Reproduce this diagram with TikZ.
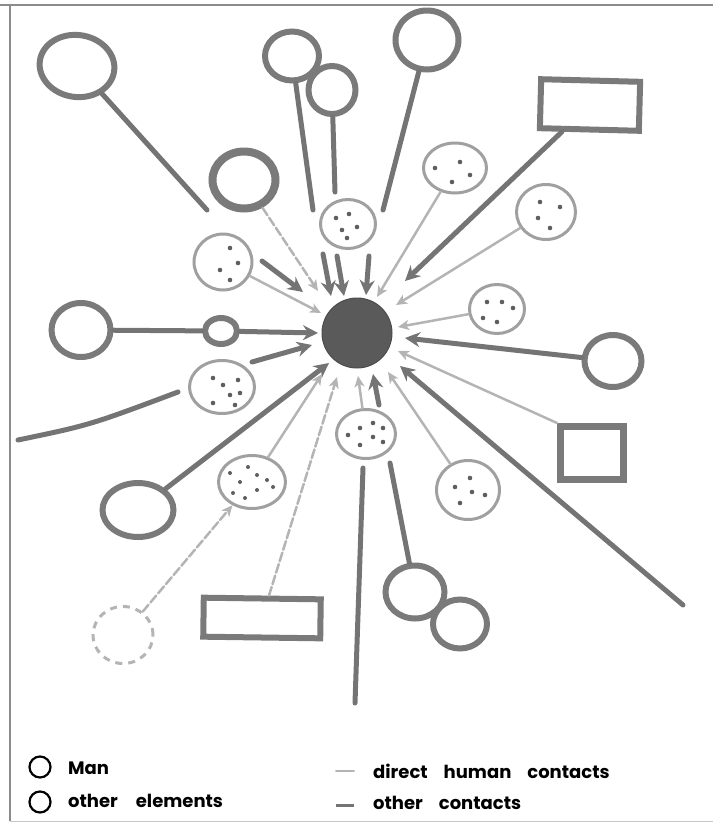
\documentclass[tikz,border=0pt]{standalone}
\usepackage{fontspec}
\setsansfont{Poppins}
\usetikzlibrary{shapes.geometric,arrows.meta}
\definecolor{elemc}{HTML}{7A7A7A}
\definecolor{linec}{HTML}{747474}
\definecolor{humc}{HTML}{B4B4B4}
\definecolor{manc}{HTML}{A0A0A0}
\definecolor{dotc}{HTML}{5E5E5E}
\definecolor{corec}{HTML}{5A5A5A}
\definecolor{framec}{HTML}{8C8C8C}
\begin{document}
\begin{tikzpicture}[x=1pt,y=-1pt,
  elem/.style={draw=elemc,line width=6pt,ellipse,inner sep=0pt},
  box/.style={draw=elemc,line width=6pt,rectangle,inner sep=0pt},
  man/.style={draw=manc,line width=3pt,ellipse,inner sep=0pt},
  other/.style={draw=linec,line width=5pt,line cap=round},
  otherarr/.style={other,-{Stealth[length=15pt,width=15pt,inset=5pt]}},
  human/.style={draw=humc,line width=2.5pt,line cap=round},
  humanarr/.style={human,-{Stealth[length=11pt,width=10pt,inset=3pt]}},
  rough/.style={dash pattern=on 9pt off 3pt},
  legtext/.style={font=\sffamily\bfseries\fontsize{18}{22}\selectfont,anchor=west,inner sep=0pt},
  legcirc/.style={draw=black,line width=2.2pt,circle,minimum size=21pt,inner sep=0pt}
]
\useasboundingbox (0,0) rectangle (713,823);
% frame
\draw[framec,line width=1.5pt] (0,5) -- (713,5);
\draw[framec,line width=1.5pt] (10,5) -- (10,821);
\draw[framec!50,line width=1pt] (10,821) -- (713,821);

% other elements
\node[elem,minimum width=75pt,minimum height=62pt,rotate=-8] (E1) at (77,66) {};
\node[elem,line width=8pt,minimum width=63pt,minimum height=57pt] (E2) at (244,180) {};
\node[elem,minimum width=54pt,minimum height=49pt] (E3) at (292,56) {};
\node[elem,minimum width=47pt,minimum height=48pt] (E4) at (332,90) {};
\node[elem,minimum width=63pt,minimum height=59pt] (E5) at (427,40) {};
\node[box,minimum width=99pt,minimum height=49pt,rotate=-1.5] (R1) at (590,105) {};
\node[elem,minimum width=59pt,minimum height=54pt] (E6) at (81,330) {};
\node[elem,minimum width=32pt,minimum height=26pt] (E7) at (221,331) {};
\node[elem,minimum width=71pt,minimum height=54pt] (E8) at (138,510) {};
\node[elem,minimum width=57pt,minimum height=52pt] (E9) at (613,361) {};
\node[box,line width=7pt,minimum width=63pt,minimum height=53pt] (R2) at (592,453) {};
\node[ellipse,draw=humc,line width=3pt,dash pattern=on 7pt off 6pt,minimum width=60pt,minimum height=57pt,inner sep=0pt] (E10) at (123,635) {};
\node[box,minimum width=117pt,minimum height=39pt,rotate=-0.8] (R3) at (262,618) {};
\node[elem,minimum width=59pt,minimum height=53pt] (E11) at (415,592) {};
\node[elem,minimum width=54pt,minimum height=49pt] (E12) at (460,624) {};

% men
\node[man,minimum width=55pt,minimum height=49pt] (M1) at (348,224) {};
\node[man,minimum width=58pt,minimum height=56pt] (M2) at (223,262) {};
\node[man,minimum width=63pt,minimum height=50pt] (M3) at (455,168) {};
\node[man,minimum width=59pt,minimum height=55pt] (M4) at (546,212) {};
\node[man,minimum width=65pt,minimum height=53pt] (M5) at (222,387) {};
\node[man,minimum width=67pt,minimum height=53pt] (M6) at (252,482) {};
\node[man,minimum width=55pt,minimum height=49pt] (M7) at (497,309) {};
\node[man,minimum width=59pt,minimum height=49pt] (M8) at (366,434) {};
\node[man,minimum width=63pt,minimum height=59pt] (M9) at (468,490) {};

\foreach \dx/\dy in {-12/-6,1/-10,-6/6,9/3,-1/14} \fill[dotc] ([shift={(\dx,\dy)}]M1.center) circle (2.3pt);
\foreach \dx/\dy in {7/-14,15/1,-3/8,7/18} \fill[dotc] ([shift={(\dx,\dy)}]M2.center) circle (2.3pt);
\foreach \dx/\dy in {5/-6,-20/0,15/7,-3/14} \fill[dotc] ([shift={(\dx,\dy)}]M3.center) circle (2.3pt);
\foreach \dx/\dy in {-6/-10,14/-5,-8/6,4/16} \fill[dotc] ([shift={(\dx,\dy)}]M4.center) circle (2.3pt);
\foreach \dx/\dy in {-9/-9,1/-2,16/-7,8/8,18/6,-9/16,13/18} \fill[dotc] ([shift={(\dx,\dy)}]M5.center) circle (2.3pt);
\foreach \dx/\dy in {-22/-9,-12/0,-4/-15,5/-7,15/-2,5/8,21/5,-19/11,-7/16} \fill[dotc] ([shift={(\dx,\dy)}]M6.center) circle (2pt);
\foreach \dx/\dy in {-10/-7,5/-7,16/-1,-14/9,0/13} \fill[dotc] ([shift={(\dx,\dy)}]M7.center) circle (2.3pt);
\foreach \dx/\dy in {-18/1,-6/-6,7/-11,17/-6,7/3,-6/11,17/8} \fill[dotc] ([shift={(\dx,\dy)}]M8.center) circle (2.3pt);
\foreach \dx/\dy in {2/-12,-13/-3,4/2,17/5,-8/13} \fill[dotc] ([shift={(\dx,\dy)}]M9.center) circle (2.3pt);

% centre: man
\node[circle,fill=corec,draw=corec!85!black,line width=1pt,minimum size=70pt,inner sep=0pt] (C) at (357,333) {};

% coordinates
\coordinate (F1e) at (207,210);
\coordinate (F2e) at (313,210);
\coordinate (F3e) at (335,192);
\coordinate (F4e) at (383,210);
\coordinate (F5s) at (18,440);
\coordinate (F5e) at (178,392);
\coordinate (F6s) at (363,468);
\coordinate (F6e) at (355,703);
\coordinate (F7e) at (390,463);
\coordinate (L5s) at (683,605);
\coordinate (T1s) at (262,261);  \coordinate (T1) at (303,292);
\coordinate (T2as) at (323,254); \coordinate (T2a) at (331,296);
\coordinate (T2bs) at (337,256); \coordinate (T2b) at (344,296);
\coordinate (T2cs) at (369,256); \coordinate (T2c) at (366,295);
\coordinate (T3) at (405,281);
\coordinate (T4) at (405,338);
\coordinate (T5) at (400,366);
\coordinate (T6) at (318,333);
\coordinate (T7s) at (252,362); \coordinate (T7) at (312,345);
\coordinate (T8) at (329,363);
\coordinate (T9s) at (379,405); \coordinate (T9) at (373,374);
\coordinate (H1) at (318,291);
\coordinate (H2) at (321,313);
\coordinate (H3) at (377,297);
\coordinate (H4) at (396,305);
\coordinate (H5) at (398,327);
\coordinate (H6) at (398,351);
\coordinate (H7) at (388,372);
\coordinate (H8) at (358,376);
\coordinate (H9) at (337,377);
\coordinate (H10) at (322,374);

% other contacts
\draw[other] (E1) -- (F1e);
\draw[other] (E3) -- (F2e);
\draw[other] (E4) -- (F3e);
\draw[other] (E5) -- (F4e);
\draw[other] (F5s) .. controls (90,425) .. (F5e);
\draw[other] (F6s) -- (F6e);
\draw[other] (E11) -- (F7e);
\draw[other] (E6) -- (E7);
\draw[otherarr] (R1) -- (T3);
\draw[otherarr] (E9) -- (T4);
\draw[otherarr] (L5s) -- (T5);
\draw[otherarr] (E7) -- (T6);
\draw[otherarr] (E8) -- (T8);
\draw[otherarr] (T1s) -- (T1);
\draw[otherarr] (T2as) -- (T2a);
\draw[otherarr] (T2bs) -- (T2b);
\draw[otherarr] (T2cs) -- (T2c);
\draw[otherarr] (T7s) -- (T7);
\draw[otherarr] (T9s) -- (T9);

% direct human contacts
\draw[humanarr,rough] (E2) -- (H1);
\draw[humanarr] (M2) -- (H2);
\draw[humanarr] (M3) -- (H3);
\draw[humanarr] (M4) -- (H4);
\draw[humanarr] (M7) -- (H5);
\draw[humanarr] (R2.north west) -- (H6);
\draw[humanarr] (M9) -- (H7);
\draw[humanarr] (M8) -- (H8);
\draw[humanarr,rough] (R3) -- (H9);
\draw[humanarr] (M6) -- (H10);
\draw[humanarr,rough] (E10) -- (M6);

% legend
\node[legcirc] (LM) at (40,767) {};
\node[legtext] (LMt) at (68,768) {Man};
\node[legcirc] (LO) at (40,802) {};
\node[legtext] (LOt) at (68,801) {other\hspace{18pt}elements};
\coordinate (LHa) at (336,771); \coordinate (LHb) at (354,771);
\draw[human,line width=2pt] (LHa) -- (LHb);
\node[legtext] (LHt) at (373,771) {direct\hspace{16pt}human\hspace{16pt}contacts};
\coordinate (LCa) at (336,805); \coordinate (LCb) at (354,805);
\draw[other,line width=3pt,line cap=butt] (LCa) -- (LCb);
\node[legtext] (LCt) at (373,803) {other\hspace{16pt}contacts};
\end{tikzpicture}
\end{document}
